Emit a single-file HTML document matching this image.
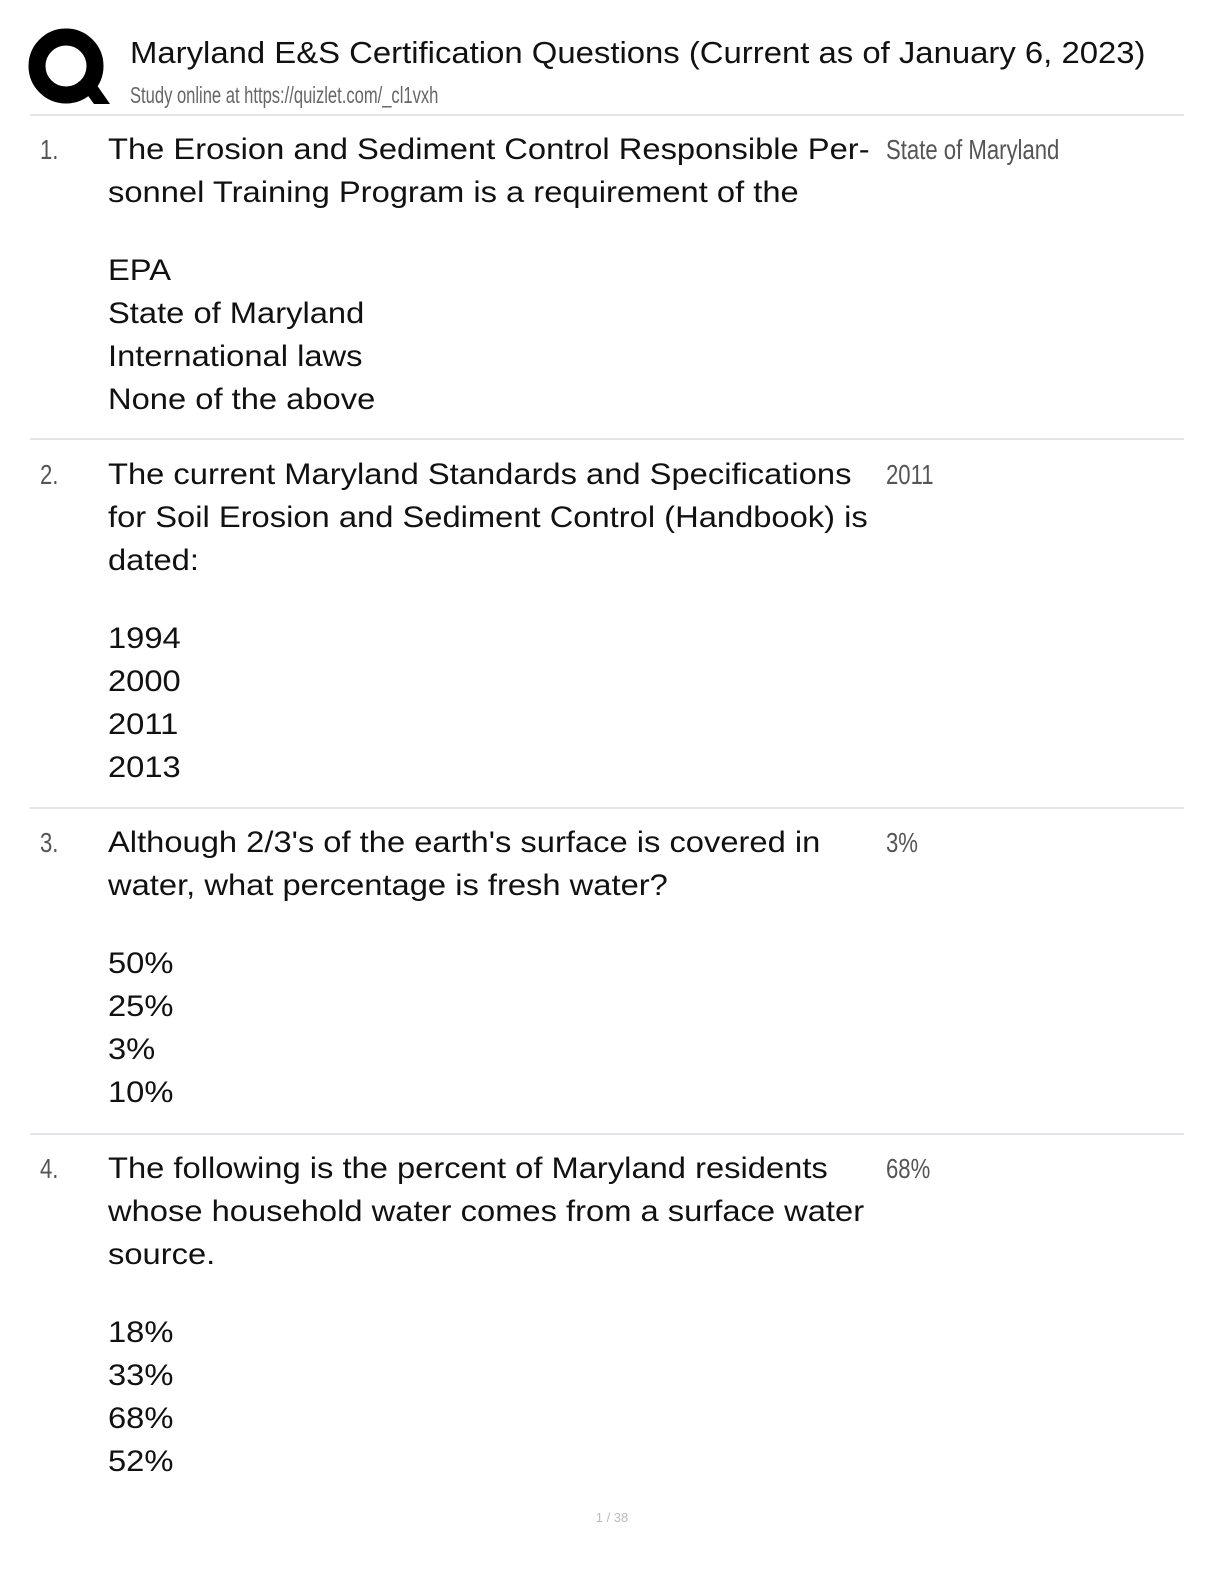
<!DOCTYPE html>
<html><head><meta charset="utf-8"><style>
body{margin:0;background:#fff;width:1224px;height:1584px;position:relative;overflow:hidden;font-family:"Liberation Sans","DejaVu Sans",sans-serif;color:#111}
.t{position:absolute;left:108px;font-size:30px;line-height:42px;white-space:nowrap;transform:scaleX(1.09);transform-origin:left center}
.n,.a{position:absolute;font-size:28px;line-height:42px;white-space:nowrap;color:#555;transform:scaleX(.79);transform-origin:left center;font-weight:300}
.n{left:40px}.a{left:886px}
.hr{position:absolute;left:30px;width:1154px;height:2px;background:#e2e5ea}
</style></head><body>
<svg style="position:absolute;left:28px;top:28px" width="84" height="82" viewBox="0 0 84 82">
<circle cx="38" cy="38" r="29" fill="none" stroke="#000" stroke-width="17"/>
<path d="M50 54 L66 76 L82 76 L64 50 Z" fill="#000"/>
</svg>
<div style="position:absolute;left:130px;top:33px;font-size:31px;line-height:40px;white-space:nowrap;color:#111;transform:scaleX(1.06);transform-origin:left center">Maryland E&amp;S Certification Questions (Current as of January 6, 2023)</div>
<div style="position:absolute;left:130px;top:81px;font-size:23px;line-height:28px;white-space:nowrap;color:#666;transform:scaleX(.72);transform-origin:left center">Study online at https://quizlet.com/_cl1vxh</div>
<div class="hr" style="top:114px"></div>

<div class="n" style="top:129px">1.</div>
<div class="t" style="top:129px">The Erosion and Sediment Control Responsible Per-</div>
<div class="a" style="top:129px">State of Maryland</div>
<div class="t" style="top:172px">sonnel Training Program is a requirement of the</div>
<div class="t" style="top:250px">EPA</div>
<div class="t" style="top:293px">State of Maryland</div>
<div class="t" style="top:336px">International laws</div>
<div class="t" style="top:379px">None of the above</div>
<div class="hr" style="top:438px"></div>

<div class="n" style="top:454px">2.</div>
<div class="t" style="top:454px">The current Maryland Standards and Specifications</div>
<div class="a" style="top:454px">2011</div>
<div class="t" style="top:497px">for Soil Erosion and Sediment Control (Handbook) is</div>
<div class="t" style="top:540px">dated:</div>
<div class="t" style="top:618px">1994</div>
<div class="t" style="top:661px">2000</div>
<div class="t" style="top:704px">2011</div>
<div class="t" style="top:747px">2013</div>
<div class="hr" style="top:807px"></div>

<div class="n" style="top:822px">3.</div>
<div class="t" style="top:822px">Although 2/3's of the earth's surface is covered in</div>
<div class="a" style="top:822px">3%</div>
<div class="t" style="top:865px">water, what percentage is fresh water?</div>
<div class="t" style="top:943px">50%</div>
<div class="t" style="top:986px">25%</div>
<div class="t" style="top:1029px">3%</div>
<div class="t" style="top:1072px">10%</div>
<div class="hr" style="top:1133px"></div>

<div class="n" style="top:1148px">4.</div>
<div class="t" style="top:1148px">The following is the percent of Maryland residents</div>
<div class="a" style="top:1148px">68%</div>
<div class="t" style="top:1191px">whose household water comes from a surface water</div>
<div class="t" style="top:1234px">source.</div>
<div class="t" style="top:1312px">18%</div>
<div class="t" style="top:1355px">33%</div>
<div class="t" style="top:1398px">68%</div>
<div class="t" style="top:1441px">52%</div>

<div style="position:absolute;left:0;width:1224px;top:1510px;text-align:center;font-size:13px;color:#bbb">1 / 38</div>
</body></html>
